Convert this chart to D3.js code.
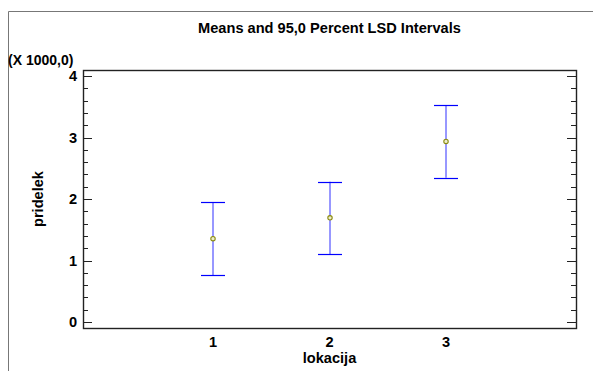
<!DOCTYPE html>
<html>
<head>
<meta charset="utf-8">
<script src="https://cdn.jsdelivr.net/npm/d3@7"></script>
<style>
    body { margin: 0; background: #fff; }
    text { font-family: Arial, "Liberation Sans", sans-serif; font-weight: bold; fill: #000; font-size: 14.6px; }
</style>
</head>
<body>
<div id="chart"></div>
<script>
// lokacija levels and LSD interval values (pridelek)
const categories = [1, 2, 3];
const means = [1355, 1694, 2937];
const lower = [764, 1106, 2346];
const upper = [1946, 2281, 3528];
const yTicks = [0, 1, 2, 3, 4];

const width = 593, height = 371;
const mLeft = 83, mRight = 576, mTop = 70, mBottom = 328;

const svg = d3.select("#chart").append("svg")
    .attr("width", width)
    .attr("height", height);

// outer frame (runs off the window on the right and bottom)
svg.append("path")
    .attr("d", `M8.5,${height} V11.5 H${width}`)
    .attr("fill", "none")
    .attr("stroke", "#777")
    .attr("stroke-width", 1);

const x = d3.scaleLinear().domain([-0.116, 4.116]).range([mLeft, mRight]);
const y = d3.scaleLinear().domain([-0.0975, 4.098]).range([mBottom, mTop]);

// y ticks, left and right, inward
const minor = d3.range(0, 4.01, 0.2).filter(v => Math.abs(v - Math.round(v)) > 0.01);
const g = svg.append("g");

g.selectAll(".maj-l").data(yTicks).enter().append("line")
    .attr("x1", mLeft).attr("x2", mLeft + 9)
    .attr("y1", d => Math.round(y(d)) + 0.5).attr("y2", d => Math.round(y(d)) + 0.5)
    .attr("stroke", "#222");
g.selectAll(".maj-r").data(yTicks).enter().append("line")
    .attr("x1", mRight).attr("x2", mRight - 9)
    .attr("y1", d => Math.round(y(d)) + 0.5).attr("y2", d => Math.round(y(d)) + 0.5)
    .attr("stroke", "#222");
g.selectAll(".min-l").data(minor).enter().append("line")
    .attr("x1", mLeft).attr("x2", mLeft + 5)
    .attr("y1", d => Math.round(y(d)) + 0.5).attr("y2", d => Math.round(y(d)) + 0.5)
    .attr("stroke", "#222");
g.selectAll(".min-r").data(minor).enter().append("line")
    .attr("x1", mRight).attr("x2", mRight - 5)
    .attr("y1", d => Math.round(y(d)) + 0.5).attr("y2", d => Math.round(y(d)) + 0.5)
    .attr("stroke", "#222");

g.selectAll(".ylab").data(yTicks).enter().append("text")
    .attr("x", 77)
    .attr("y", d => y(d) + 5.2)
    .attr("text-anchor", "end")
    .text(d => d);

// plot frame
svg.append("rect")
    .attr("x", mLeft + 0.5).attr("y", mTop + 0.5)
    .attr("width", mRight - mLeft).attr("height", mBottom - mTop)
    .attr("fill", "none")
    .attr("stroke", "#222")
    .attr("stroke-width", 1.4);

// x tick labels
svg.selectAll(".xlab").data(categories).enter().append("text")
    .attr("x", d => x(d))
    .attr("y", 347)
    .attr("text-anchor", "middle")
    .text(d => d);

// error bars
const bars = svg.append("g");
categories.forEach((c, i) => {
    let cx = Math.round(x(c));
    bars.append("line")
        .attr("x1", cx).attr("x2", cx)
        .attr("y1", y(upper[i] / 1000)).attr("y2", y(lower[i] / 1000))
        .attr("stroke", "#3030ff").attr("stroke-width", 1);
    [upper[i], lower[i]].forEach(v => {
        bars.append("line")
            .attr("x1", cx - 12).attr("x2", cx + 12)
            .attr("y1", Math.round(y(v / 1000)) + 0.5).attr("y2", Math.round(y(v / 1000)) + 0.5)
            .attr("stroke", "#0000ff").attr("stroke-width", 1.2);
    });
    bars.append("circle")
        .attr("cx", cx).attr("cy", y(means[i] / 1000))
        .attr("r", 2.2)
        .attr("fill", "#eeeecc")
        .attr("stroke", "#8a8a10")
        .attr("stroke-width", 1.1);
});

// titles
svg.append("text")
    .attr("x", (mLeft + mRight) / 2).attr("y", 33)
    .attr("text-anchor", "middle")
    .text("Means and 95,0 Percent LSD Intervals");

svg.append("text")
    .attr("x", 8).attr("y", 65)
    .style("font-size", "14px")
    .text("(X 1000,0)");

svg.append("text")
    .attr("x", (mLeft + mRight) / 2).attr("y", 363)
    .attr("text-anchor", "middle")
    .text("lokacija");

svg.append("text")
    .attr("transform", `translate(43,${(mTop + mBottom) / 2}) rotate(-90)`)
    .attr("text-anchor", "middle")
    .text("pridelek");
</script>
</body>
</html>
